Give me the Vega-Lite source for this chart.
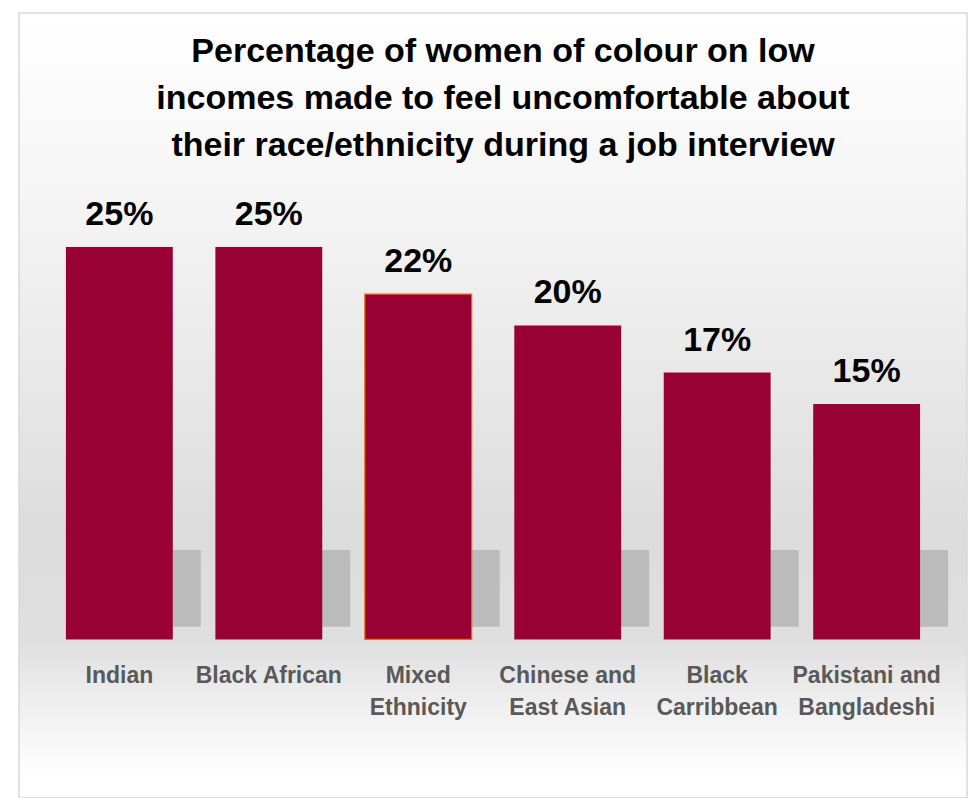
{
  "$schema": "https://vega.github.io/schema/vega-lite/v6.json",
  "autosize": "none",
  "width": 948,
  "height": 785,
  "padding": {"left": 19, "top": 13, "right": 10, "bottom": 0},
  "background": "#ffffff",
  "config": {
    "view": {
      "stroke": "#d9d9d9",
      "strokeWidth": 1.5,
      "fill": {"gradient": "linear", "x1": 0, "y1": 0, "x2": 0, "y2": 1, "stops": [
        {"offset": 0, "color": "#ffffff"},
        {"offset": 0.25, "color": "#f4f4f4"},
        {"offset": 0.5, "color": "#e6e6e6"},
        {"offset": 0.66, "color": "#dcdcdc"},
        {"offset": 0.8, "color": "#dfdfdf"},
        {"offset": 0.88, "color": "#efefef"},
        {"offset": 0.97, "color": "#ffffff"},
        {"offset": 1, "color": "#ffffff"}
      ]}
    }
  },
  "title": {
    "text": ["Percentage of women of colour on low", "incomes made to feel uncomfortable about", "their race/ethnicity during a job interview"],
    "font": "Liberation Sans",
    "fontSize": 34,
    "fontWeight": "bold",
    "color": "#000000",
    "lineHeight": 47,
    "anchor": "middle",
    "frame": "group",
    "orient": "top",
    "offset": -150,
    "dx": 10
  },
  "data": {
    "values": [
      {"group": "Indian", "pct": 0.25},
      {"group": "Black African", "pct": 0.25},
      {"group": "Mixed Ethnicity", "pct": 0.22},
      {"group": "Chinese and East Asian", "pct": 0.20},
      {"group": "Black Carribbean", "pct": 0.17},
      {"group": "Pakistani and Bangladeshi", "pct": 0.15}
    ]
  },
  "encoding": {
    "x": {
      "field": "group",
      "type": "nominal",
      "sort": null,
      "scale": {"paddingInner": 0.285, "paddingOuter": 0.314},
      "axis": {
        "title": null,
        "orient": "bottom",
        "offset": -158,
        "domain": false,
        "ticks": false,
        "labelAngle": 0,
        "labelFont": "Liberation Sans",
        "labelFontSize": 23,
        "labelFontWeight": "bold",
        "labelColor": "#595959",
        "labelPadding": 24,
        "labelLineHeight": 32,
        "labelLimit": 300,
        "labelExpr": "datum.label == 'Mixed Ethnicity' ? ['Mixed', 'Ethnicity'] : datum.label == 'Chinese and East Asian' ? ['Chinese and', 'East Asian'] : datum.label == 'Black Carribbean' ? ['Black', 'Carribbean'] : datum.label == 'Pakistani and Bangladeshi' ? ['Pakistani and', 'Bangladeshi'] : datum.label"
      }
    }
  },
  "layer": [
    {
      "mark": {"type": "bar", "color": "#b5b5b5", "xOffset": 28, "opacity": 0.85},
      "encoding": {
        "y": {"datum": 0.008, "type": "quantitative", "scale": {"domain": [-0.101, 0.399], "nice": false, "zero": false}, "axis": null},
        "y2": {"datum": 0.057}
      }
    },
    {
      "mark": {"type": "bar", "color": "#990033", "strokeWidth": 1.2},
      "encoding": {
        "y": {"field": "pct", "type": "quantitative", "scale": {"domain": [-0.101, 0.399], "nice": false, "zero": false}, "axis": null},
        "y2": {"datum": 0},
        "stroke": {"condition": {"test": "datum.group === 'Mixed Ethnicity'", "value": "#e46c0a"}, "value": null}
      }
    },
    {
      "mark": {"type": "text", "font": "Liberation Sans", "fontSize": 34, "fontWeight": "bold", "color": "#000000", "baseline": "alphabetic", "dy": -22},
      "encoding": {
        "y": {"field": "pct", "type": "quantitative", "scale": {"domain": [-0.101, 0.399], "nice": false, "zero": false}, "axis": null},
        "text": {"field": "pct", "type": "quantitative", "format": ".0%"}
      }
    }
  ]
}
